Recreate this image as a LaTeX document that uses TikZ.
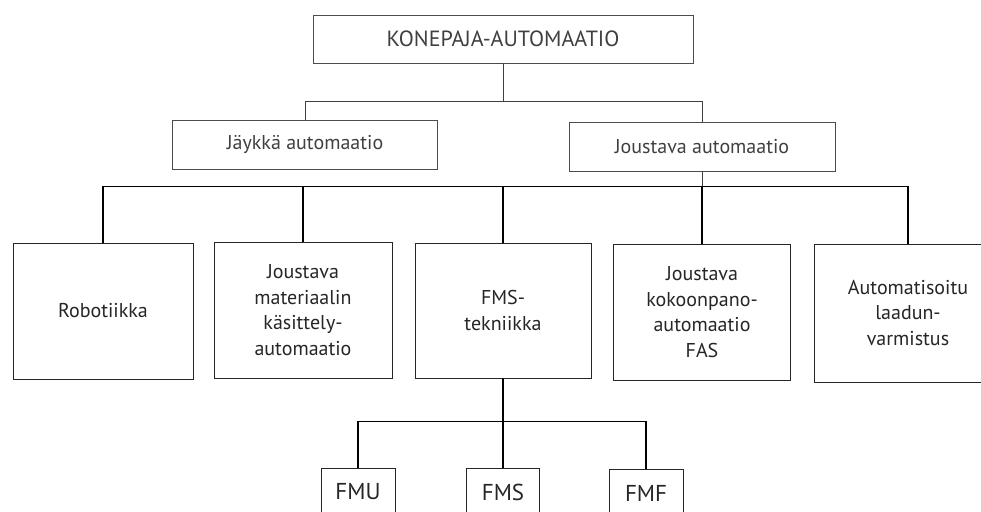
\documentclass[tikz,border=0pt]{standalone}
\usepackage{fontspec}
\setmainfont{PT Sans}
\begin{document}
\begin{tikzpicture}[x=1pt,y=-1pt,
	laatikko/.style={draw=black!85,line width=.8pt,fill=white,align=center,inner sep=0pt,text=black!85,font=\fontsize{20}{25.7}\selectfont},
	ylalaatikko/.style={laatikko,draw=black!70,line width=.6pt,text=black!75,font=\fontsize{20}{24}\selectfont},
	alalaatikko/.style={laatikko,font=\fontsize{23}{26}\selectfont},
	ohut/.style={draw=black!75,line width=.6pt},
	paksu/.style={draw=black,line width=1.2pt}]
	\useasboundingbox (0,0) rectangle (981,511);
	\clip (0,0) rectangle (981,511);
	% yläosa
	\node[ylalaatikko,minimum width=380pt,minimum height=48pt,font=\fontsize{22}{24}\selectfont] (konepaja) at (503,39) {KONEPAJA-AUTOMAATIO};
	\node[ylalaatikko,minimum width=265pt,minimum height=49pt] (jaykka) at (305,144.5) {Jäykkä automaatio};
	\node[ylalaatikko,minimum width=266pt,minimum height=49pt] (joustava) at (702,146.5) {Joustava automaatio};
	\draw[ohut] (konepaja.south) -- ++(0,38) coordinate (haara1) -| (jaykka.north);
	\draw[ohut] (haara1) -| (joustava.north);
	% keskirivi
	\node[laatikko,minimum width=180pt,minimum height=136pt] (robotiikka) at (103,311) {Robotiikka};
	\node[laatikko,minimum width=178pt,minimum height=136pt] (kasittely) at (303,310) {Joustava\\materiaalin\\käsittely-\\automaatio};
	\node[laatikko,minimum width=176pt,minimum height=135pt] (fms) at (503,310.5) {FMS-\\tekniikka};
	\node[laatikko,minimum width=177pt,minimum height=136pt] (fas) at (702,312) {Joustava\\kokoonpano-\\automaatio\\FAS};
	\node[laatikko,minimum width=188pt,minimum height=138pt] (laatu) at (908,313) {Automatisoitu\\laadun-\\varmistus};
	\draw[ohut] (joustava.south) -- ++(0,15) coordinate (haara2);
	\foreach \n in {robotiikka,kasittely,fms,fas,laatu}
		\draw[paksu] (haara2) -| (\n.north);
	% alarivi
	\node[alalaatikko,minimum width=74pt,minimum height=48pt] (fmu) at (358,492) {FMU};
	\node[alalaatikko,minimum width=73pt,minimum height=48pt] (fmsb) at (503,492) {FMS};
	\node[alalaatikko,minimum width=74pt,minimum height=48pt] (fmf) at (646,493) {FMF};
	\draw[paksu] (fms.south) -- ++(0,43) coordinate (haara3);
	\foreach \n in {fmu,fmsb,fmf}
		\draw[paksu] (haara3) -| (\n.north);
\end{tikzpicture}
\end{document}
